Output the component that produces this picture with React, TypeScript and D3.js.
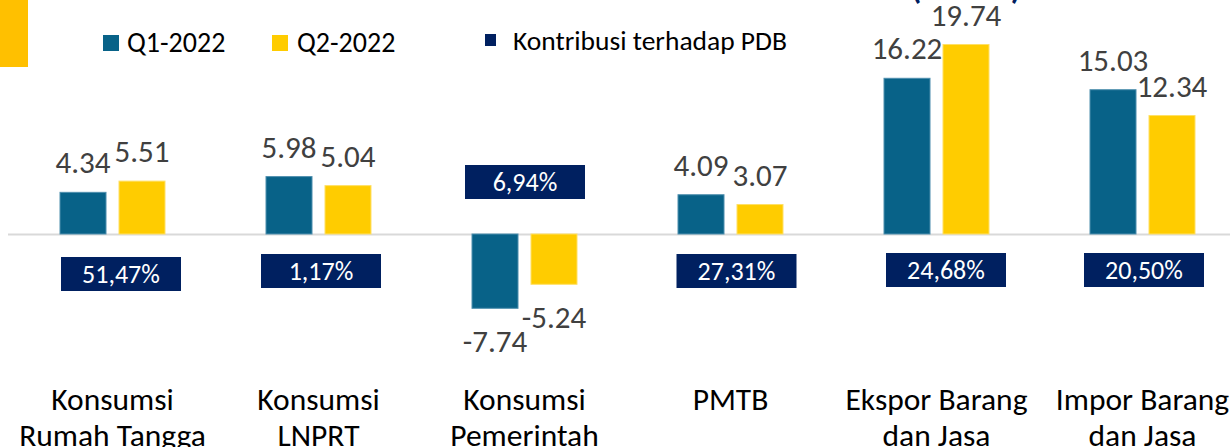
import React from "react";
import * as d3 from "d3";

// ---- data ----
const categories: string[][] = [
  ["Konsumsi", "Rumah Tangga"],
  ["Konsumsi", "LNPRT"],
  ["Konsumsi", "Pemerintah"],
  ["PMTB"],
  ["Ekspor Barang", "dan Jasa"],
  ["Impor Barang", "dan Jasa"],
];
const seriesNames = ["Q1-2022", "Q2-2022"];
const q1Values = [4.34, 5.98, -7.74, 4.09, 16.22, 15.03];
const q2Values = [5.51, 5.04, -5.24, 3.07, 19.74, 12.34];
const pdbContribution = [51.47, 1.17, 6.94, 27.31, 24.68, 20.5];
const contributionLabel = "Kontribusi terhadap PDB";

// ---- layout (manual annotation nudges, px) ----
const boxNudgeX = [8.5, 2.5, 0.5, 6, 9.5, 1.5];
const boxNudgeY = [3, 0, 0, 0, -1, -1];

const W = 1230;
const H = 447;
const FONT = "Carlito, Calibri, Lato, 'Open Sans', sans-serif";
const C_Q1 = "#086288";
const C_Q2 = "#FFCC00";
const C_NAVY = "#002060";

export default function App() {
  const keys = categories.map((c) => c.join(" "));
  const x = d3.scaleBand<string>().domain(keys).range([9.5, 1245.5]).padding(0);
  const xi = d3
    .scaleBand<string>()
    .domain(seriesNames)
    .range([-52.5, 52.5])
    .paddingInner(0.22)
    .paddingOuter(0);
  const y = d3.scaleLinear().domain([0, 20]).range([234, 234 - 192]);
  const fmtPct = (v: number) => d3.format(".2f")(v).replace(".", ",") + "%";
  const fmtVal = (v: number) => d3.format(".2f")(v).replace("\u2212", "-");
  const series = [q1Values, q2Values];
  const colors = [C_Q1, C_Q2];
  const bw = xi.bandwidth();
  const boxW = 120;
  const boxH = 34;

  return (
    <svg
      width={W}
      height={H}
      style={{ position: "absolute", left: 0, top: 0, display: "block", background: "#fff" }}
      fontFamily={FONT}
    >
      {/* top-left accent */}
      <rect x={0} y={0} width={28} height={67} fill="#FFC000" />
      {/* clipped title fragment */}
      <text x={966} y={-1} textAnchor="middle" fontSize={32} fontWeight="bold" fill={C_NAVY}>
        (Persen)
      </text>

      {/* legend */}
      <g>
        <rect x={103} y={35} width={16} height={16} fill={C_Q1} />
        <text x={127} y={52} fontSize={28} fill="#000">{seriesNames[0]}</text>
        <rect x={272} y={35} width={16} height={16} fill={C_Q2} />
        <text x={297} y={52} fontSize={28} fill="#000">{seriesNames[1]}</text>
        <rect x={485} y={34} width={11} height={12} fill={C_NAVY} />
        <text x={513} y={50} fontSize={27.5} fill="#000">{contributionLabel}</text>
      </g>

      {/* zero line */}
      <line x1={8} x2={W} y1={y(0) + 0.5} y2={y(0) + 0.5} stroke="#d9d9d9" strokeWidth={2} />

      {/* bars */}
      {keys.map((k, i) => {
        const cx = (x(k) as number) + x.bandwidth() / 2;
        return (
          <g key={k}>
            {series.map((vals, s) => {
              const v = vals[i];
              const bx = cx + (xi(seriesNames[s]) as number);
              const top = Math.min(y(v), y(0));
              const h = Math.abs(y(v) - y(0));
              return (
                <g key={s}>
                  <rect
                    x={bx}
                    y={top}
                    width={bw}
                    height={h}
                    fill={colors[s]}
                    stroke={s === 0 ? "#4f8fae" : "#ffe066"}
                    strokeWidth={1}
                  />
                  <text
                    x={bx + bw / 2}
                    y={v >= 0 ? y(v) - 19 : y(v) + 44}
                    textAnchor="middle"
                    fontSize={31}
                    fill="#404040"
                  >
                    {fmtVal(v)}
                  </text>
                </g>
              );
            })}
          </g>
        );
      })}

      {/* contribution boxes */}
      {keys.map((k, i) => {
        const cx = (x(k) as number) + x.bandwidth() / 2 + boxNudgeX[i];
        const neg = q1Values[i] < 0;
        const top = (neg ? y(0) - 69 : y(0) + 20) + boxNudgeY[i];
        return (
          <g key={"b" + k}>
            <rect x={cx - boxW / 2} y={top} width={boxW} height={boxH} fill={C_NAVY} />
            <text
              x={cx}
              y={top + boxH / 2 + 9}
              textAnchor="middle"
              fontSize={26}
              fill="#fff"
            >
              {fmtPct(pdbContribution[i])}
            </text>
          </g>
        );
      })}

      {/* category labels */}
      {categories.map((lines, i) => {
        const cx = (x(keys[i]) as number) + x.bandwidth() / 2;
        return (
          <text key={"c" + i} x={cx} textAnchor="middle" fontSize={31.5} fill="#000">
            {lines.map((l, j) => (
              <tspan key={j} x={cx} y={410 + j * 36}>
                {l}
              </tspan>
            ))}
          </text>
        );
      })}
    </svg>
  );
}
